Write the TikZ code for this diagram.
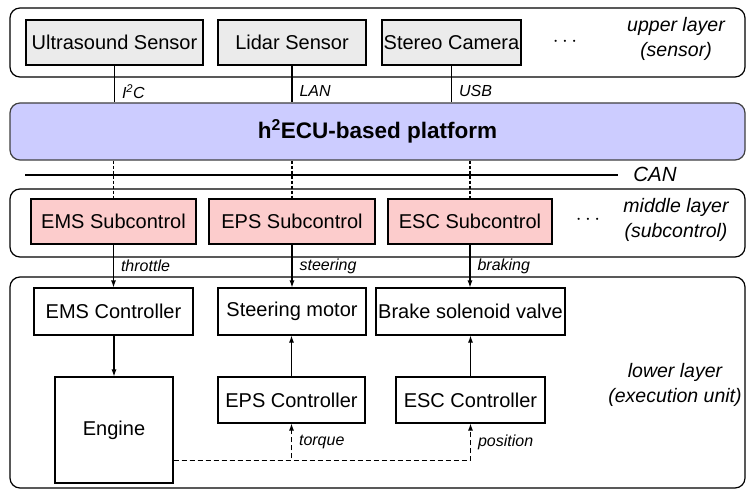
\documentclass[tikz,border=0pt]{standalone}
\usepackage{fontspec}
\setmainfont{Liberation Sans}
\usetikzlibrary{arrows.meta}
\definecolor{sensorgray}{RGB}{235,235,235}
\definecolor{subpink}{RGB}{252,204,204}
\definecolor{ecublue}{RGB}{204,204,255}
\begin{document}
\begin{tikzpicture}[x=1pt, y=-1pt,
  box/.style={rectangle,draw,line width=1.1pt,inner sep=0pt,minimum height=45pt,
    font=\fontsize{20}{23}\selectfont},
  sensor/.style={box,fill=sensorgray},
  subctrl/.style={box,fill=subpink},
  unit/.style={box,fill=white,minimum height=47pt},
  layer/.style={rectangle,draw,rounded corners=10pt,line width=1.2pt,inner sep=0pt,minimum width=735pt},
  layertext/.style={align=center,font=\fontsize{19.5}{25}\selectfont\itshape},
  lbl/.style={right,inner sep=7pt,font=\fontsize{16}{18}\selectfont\itshape},
  dots/.style={font=\fontsize{20}{22}\selectfont},
  link/.style={line width=1.1pt},
  bus/.style={line width=1.1pt,dash pattern=on 3pt off 2pt},
  act/.style={line width=1.1pt,-{Latex[length=7pt,width=5pt]}},
  fb/.style={line width=1.1pt,dash pattern=on 5pt off 3pt,-{Latex[length=7pt,width=5pt]}}]%
  \useasboundingbox (0,0) rectangle (746,492);

  % layers
  \node[layer,minimum height=69pt] (upper) at (377.5,42.5) {};
  \node[layer,minimum height=68pt] (middle) at (377.5,223) {};
  \node[layer,minimum height=211pt] (lower) at (377.5,382.5) {};
  \node[rectangle,draw=black!75,fill=ecublue,rounded corners=10pt,line width=1.2pt,
    minimum width=735pt,minimum height=57pt,font=\fontsize{22.5}{26}\selectfont\bfseries]
    (ecu) at (377.5,131.5) {h\textsuperscript{2}ECU-based platform};

  % upper layer
  \node[sensor,minimum width=177pt] (us) at (114.5,42.5) {Ultrasound Sensor};
  \node[sensor,minimum width=148pt] (lidar) at (292,42.5) {Lidar Sensor};
  \node[sensor,minimum width=139pt] (cam) at (451.5,42.5) {Stereo Camera};
  \node[dots] (dotsup) at (565,42) {$\cdots$};
  \node[layertext] (uptext) at (676,38.5) {upper layer\\(sensor)};

  \draw[link] (us.south) -- (us.south |- ecu.north) node[lbl,pos=0.7] {I\textsuperscript{2}C};
  \draw[link] (lidar.south) -- (lidar.south |- ecu.north) node[lbl,pos=0.7] {LAN};
  \draw[link] (cam.south) -- (cam.south |- ecu.north) node[lbl,pos=0.7] {USB};

  % CAN bus
  \coordinate (canL) at (25,175);
  \coordinate (canR) at (618,175);
  \draw[link] (canL) -- (canR);
  \node[font=\fontsize{20.5}{22}\selectfont\itshape] (can) at (655,174) {CAN};

  % middle layer
  \node[subctrl,minimum width=165pt] (emss) at (113.5,221.5) {EMS Subcontrol};
  \node[subctrl,minimum width=166pt] (epss) at (292,221.5) {EPS Subcontrol};
  \node[subctrl,minimum width=164pt] (escs) at (470,221.5) {ESC Subcontrol};
  \node[dots] (dotsmid) at (588,220) {$\cdots$};
  \node[layertext] (midtext) at (676,219.5) {middle layer\\(subcontrol)};

  \draw[bus] (emss.north |- ecu.south) -- (emss.north);
  \draw[bus] (epss.north |- ecu.south) -- (epss.north);
  \draw[bus] (escs.north |- ecu.south) -- (escs.north);

  % lower layer
  \node[unit,minimum width=159pt] (emsc) at (113.5,311.5) {EMS Controller};
  \node[unit,minimum width=148pt] (steer) at (292,311.5) {Steering motor};
  \node[unit,minimum width=189pt] (brake) at (470.5,311.5) {Brake solenoid valve};
  \node[unit,minimum width=118pt,minimum height=106pt] (engine) at (114,430) {Engine};
  \node[unit,minimum width=147pt,minimum height=46pt] (epsc) at (291.5,400) {EPS Controller};
  \node[unit,minimum width=149pt,minimum height=46pt] (escc) at (470.5,400) {ESC Controller};
  \node[layertext] (lowtext) at (675,384.5) {lower layer\\(execution unit)};

  \draw[act] (emss.south) -- (emss.south |- emsc.north) node[lbl,midway] {throttle};
  \draw[act] (epss.south) -- (epss.south |- steer.north) node[lbl,midway] {steering};
  \draw[act] (escs.south) -- (escs.south |- brake.north) node[lbl,midway] {braking};
  \draw[act] (emsc.south -| engine.north) -- (engine.north);
  \draw[act] (epsc.north) -- (epsc.north |- steer.south);
  \draw[act] (escc.north) -- (escc.north |- brake.south);

  \coordinate (fbstart) at ([yshift=-30.5pt]engine.east);
  \draw[fb] (fbstart) -| (epsc.south) node[lbl,pos=0.75] {torque};
  \draw[fb] (fbstart) -| (escc.south) node[lbl,pos=0.75] {position};
\end{tikzpicture}
\end{document}
